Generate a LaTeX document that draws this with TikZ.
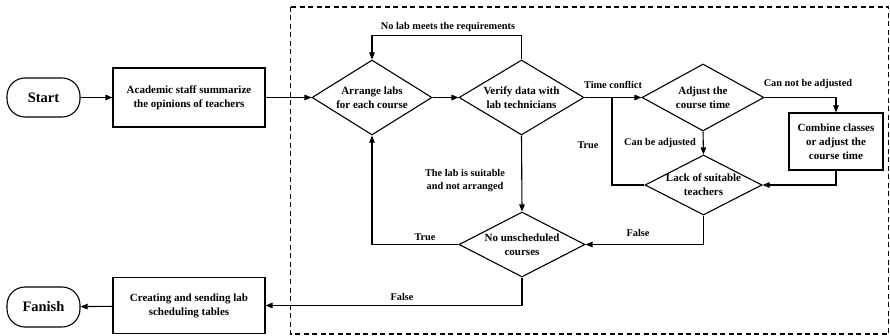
\documentclass[tikz,border=0pt]{standalone}
\usepackage{fontspec}
\setmainfont{Liberation Serif}
\usetikzlibrary{arrows.meta,shapes.geometric}
\begin{document}
\begin{tikzpicture}[x=1pt,y=-1pt,
  line width=1.1pt,
  font=\bfseries,
  arr/.style={-{Triangle[length=7pt,width=5.5pt]}},
  boxtxt/.style={font=\fontsize{11}{14}\selectfont\bfseries, align=center},
  lbl/.style={font=\fontsize{10.3}{13}\selectfont\bfseries, align=center},
  term/.style={draw, rectangle, rounded corners=18pt, minimum width=73pt, minimum height=39pt, inner sep=0pt, font=\fontsize{14.5}{16}\selectfont\bfseries},
  proc/.style={draw, rectangle, inner sep=0pt, boxtxt},
  dia/.style={draw, diamond, inner sep=0pt, aspect=1}
]
\useasboundingbox (0,0) rectangle (890,336);
\draw[dashed, dash pattern=on 5pt off 3.5pt] (290.5,7) rectangle (888.5,334);

\node[term] (start) at (43.5,97.5) {Start};
\node[proc, minimum width=152pt, minimum height=59pt] (acad) at (189,97.5) {Academic staff summarize\\the opinions of teachers};
\node[term, minimum height=40pt] (fin) at (43.5,307) {Fanish};
\node[proc, minimum width=152pt, minimum height=56pt] (cre) at (189,305.5) {Creating and sending lab\\scheduling tables};

\node[dia, minimum width=120pt, minimum height=75pt, label={[boxtxt]center:Arrange labs\\for each course}] (arrn) at (372,97.5) {};
\node[dia, minimum width=125pt, minimum height=75pt, label={[boxtxt]center:Verify data with\\lab technicians}] (ver) at (521.5,97.5) {};
\node[dia, minimum width=122pt, minimum height=67pt, label={[boxtxt]center:Adjust the\\course time}] (adj) at (703,97.5) {};
\node[dia, minimum width=117pt, minimum height=60pt, label={[boxtxt]center:Lack of suitable\\teachers}] (lack) at (703.5,185) {};
\node[proc, minimum width=94pt, minimum height=57pt] (comb) at (836,141.5) {Combine classes\\or adjust the\\course time};
\node[dia, minimum width=126pt, minimum height=65pt, label={[boxtxt]center:No unscheduled\\courses}] (nou) at (522,244.5) {};

\coordinate (jn) at (612,97.5);

\draw[arr] (start) -- (acad);
\draw[arr] (acad) -- (arrn);
\draw[arr] (arrn) -- (ver);
\draw[arr] (ver.north) -- ++(0,-24) -| (arrn.north);
\node[lbl] (l1) at (448,27) {No lab meets the requirements};
\draw[arr] (ver.east) -- (adj.west);
\node[lbl] (l2) at (613,85) {Time conflict};
\draw[arr] (adj.east) -| (comb.north);
\node[lbl] (l3) at (808,84) {Can not be adjusted};
\draw[arr] (adj.south) -- (lack.north);
\node[lbl] (l4) at (660,143) {Can be adjusted};
\draw[arr] (comb.south) |- (lack.east);
\draw (lack.west) -| (jn);
\node[lbl] (l5) at (588,145) {True};
\draw[arr] (lack.south) |- (nou.east);
\node[lbl] (l6) at (638,233) {False};
\draw[arr] (ver.south) -- (nou.north);
\node[lbl] (l7) at (465,181) {The lab is suitable\\and not arranged};
\draw[arr] (nou.west) -| (arrn.south);
\node[lbl] (l8) at (425,237) {True};
\draw[arr] (nou.south) |- (cre.east);
\node[lbl] (l9) at (402,297) {False};
\draw[arr] (cre) -- (fin);
\end{tikzpicture}
\end{document}
